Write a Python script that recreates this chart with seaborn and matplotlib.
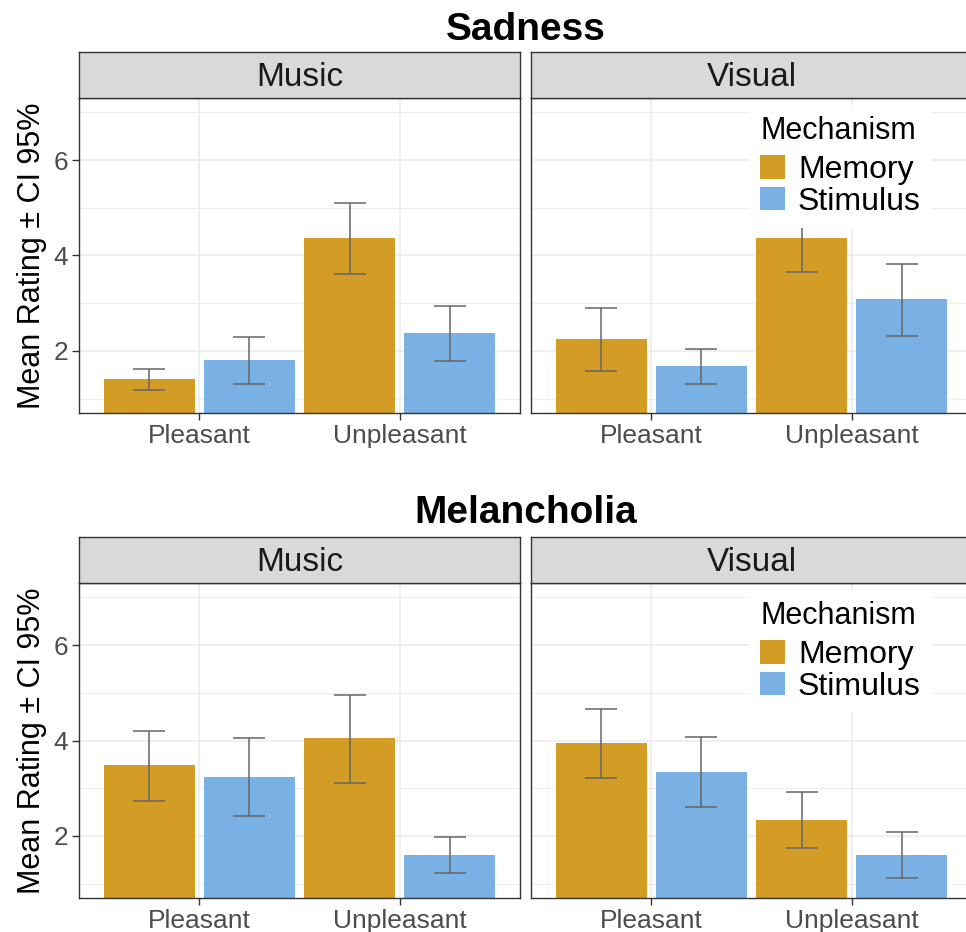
import numpy as np
import pandas as pd
import matplotlib
matplotlib.use("Agg")
import matplotlib.pyplot as plt
import seaborn as sns
from matplotlib.patches import Patch

emotions = ["Sadness", "Melancholia"]
modalities = ["Music", "Visual"]
valences = ["Pleasant", "Unpleasant"]
mechanisms = ["Memory", "Stimulus"]

# orden: Pleasant-Memory, Pleasant-Stimulus, Unpleasant-Memory, Unpleasant-Stimulus
sad_music_mean = [1.41, 1.81, 4.37, 2.37]
sad_music_lo = [1.19, 1.30, 3.62, 1.79]
sad_music_hi = [1.62, 2.30, 5.11, 2.95]

sad_visual_mean = [2.24, 1.68, 4.37, 3.08]
sad_visual_lo = [1.59, 1.30, 3.66, 2.31]
sad_visual_hi = [2.89, 2.04, 5.08, 3.82]

mel_music_mean = [3.48, 3.23, 4.05, 1.60]
mel_music_lo = [2.73, 2.42, 3.12, 1.22]
mel_music_hi = [4.20, 4.05, 4.95, 1.97]

mel_visual_mean = [3.94, 3.33, 2.33, 1.60]
mel_visual_lo = [3.22, 2.60, 1.74, 1.12]
mel_visual_hi = [4.65, 4.07, 2.92, 2.08]

series = {
    ("Sadness", "Music"): (sad_music_mean, sad_music_lo, sad_music_hi),
    ("Sadness", "Visual"): (sad_visual_mean, sad_visual_lo, sad_visual_hi),
    ("Melancholia", "Music"): (mel_music_mean, mel_music_lo, mel_music_hi),
    ("Melancholia", "Visual"): (mel_visual_mean, mel_visual_lo, mel_visual_hi),
}

rows = []
for (emo, mod), (m, lo, hi) in series.items():
    i = 0
    for val in valences:
        for mech in mechanisms:
            rows.append([emo, mod, val, mech, m[i], lo[i], hi[i]])
            i += 1
df = pd.DataFrame(rows, columns=["Emotion", "Modality", "Valence", "Mechanism", "Mean", "Lo", "Hi"])

pal = {"Memory": "#D29C25", "Stimulus": "#79B1E4"}

sns.set_theme(style="white")
plt.rcParams["font.family"] = ["Liberation Sans", "DejaVu Sans"]

W, H = 966, 932
fig = plt.figure(figsize=(W / 100, H / 100), dpi=100)

# posiciones en pixeles (izq, der) y (arriba strip, arriba panel, abajo panel)
cols_px = [(79, 520), (531, 972)]
rows_px = [(52, 98, 413), (537, 583, 898)]
title_base = [40, 523]

for r, emo in enumerate(emotions):
    fig.text(525.5 / W, 1 - title_base[r] / H, emo, ha="center", va="baseline",
             fontsize=28, fontweight="bold", color="black")
    st, pt, pb = rows_px[r]
    for c, mod in enumerate(modalities):
        l, rr = cols_px[c]
        sub = df[(df.Emotion == emo) & (df.Modality == mod)]
        ax = fig.add_axes([l / W, 1 - pb / H, (rr - l) / W, (pb - pt) / H])
        sns.barplot(data=sub, x="Valence", y="Mean", hue="Mechanism", order=valences,
                    hue_order=mechanisms, palette=pal, width=1.0, gap=0.09,
                    errorbar=None, legend=False, saturation=1, linewidth=0, ax=ax)

        # barras de error con los IC
        for k, mech in enumerate(mechanisms):
            bars = sorted(ax.containers[k], key=lambda b: b.get_x())
            s = sub[sub.Mechanism == mech].set_index("Valence").loc[valences]
            xs = [b.get_x() + b.get_width() / 2 for b in bars]
            ax.errorbar(xs, s.Mean, yerr=[s.Mean - s.Lo, s.Hi - s.Mean], fmt="none",
                        ecolor="#666666", elinewidth=1.1, capsize=11.5, capthick=1.1, zorder=3)

        ax.set_xlim(-0.6, 1.6)
        ax.set_ylim(0.7, 7.3)
        ax.set_yticks([2, 4, 6])
        ax.set_yticks([1, 3, 5, 7], minor=True)
        ax.grid(which="major", color="#EBEBEB", linewidth=1.1)
        ax.grid(which="minor", axis="y", color="#EBEBEB", linewidth=0.6)
        ax.set_axisbelow(True)
        ax.set_facecolor("white")
        for sp in ax.spines.values():
            sp.set_color("#333333")
            sp.set_linewidth(1.0)
        ax.set_xlabel("")
        ax.tick_params(axis="x", which="major", bottom=True, length=5, width=1, color="#333333",
                       labelsize=19, labelcolor="#4D4D4D", pad=3)
        ax.tick_params(axis="y", which="minor", left=False)
        if c == 0:
            ax.tick_params(axis="y", which="major", left=True, length=5, width=1, color="#333333",
                           labelsize=19, labelcolor="#4D4D4D", pad=3)
            ax.set_ylabel("Mean Rating ± CI 95%", fontsize=22, color="black")
            ax.yaxis.set_label_coords((47 - l) / (rr - l), 0.5)
        else:
            ax.tick_params(axis="y", which="major", left=False, labelleft=False)
            ax.set_ylabel("")
            handles = [Patch(facecolor=pal[m], edgecolor="none", label=m) for m in mechanisms]
            leg = ax.legend(handles=handles, title="Mechanism", loc="upper right",
                            bbox_to_anchor=((932 - l) / (rr - l), (pb - (pt + 7)) / (pb - pt)),
                            fontsize=23, title_fontsize=22, frameon=True, fancybox=False,
                            framealpha=1, edgecolor="none", facecolor="white",
                            handlelength=0.78, handleheight=0.75, handletextpad=0.4,
                            labelspacing=0.05, borderpad=0.35, alignment="left",
                            borderaxespad=0, labelcolor="black")
            leg.get_title().set_color("black")
            leg._legend_box.sep = 6.5
            leg.set_zorder(5)

        # strip del facet
        sax = fig.add_axes([l / W, 1 - pt / H, (rr - l) / W, (pt - st) / H])
        sax.set_facecolor("#D9D9D9")
        sax.set_xticks([])
        sax.set_yticks([])
        for sp in sax.spines.values():
            sp.set_color("#333333")
            sp.set_linewidth(1.0)
        sax.text(0.5 * 441 / (rr - l), 0.45, mod, ha="center", va="center",
                 fontsize=24, color="#1A1A1A", transform=sax.transAxes)

fig.savefig("out.png", dpi=100)
